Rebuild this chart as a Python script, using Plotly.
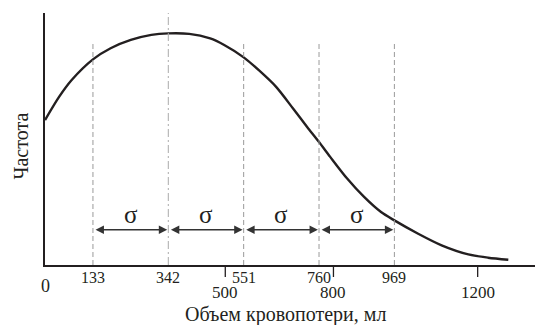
import plotly.graph_objects as go

# Curve (blood loss volume, ml -> relative frequency)
curve_x = [0, 39, 74, 133, 182, 238, 295, 342, 400, 458, 497, 551, 593, 641,
           688, 727, 760, 791, 838, 885, 932, 969, 1035, 1100, 1174, 1229, 1285]
curve_y = [0.575, 0.667, 0.734, 0.816, 0.860, 0.893, 0.913, 0.919, 0.917, 0.899,
           0.873, 0.824, 0.773, 0.707, 0.621, 0.548, 0.488, 0.429, 0.343, 0.270,
           0.210, 0.177, 0.124, 0.078, 0.042, 0.029, 0.021]

sigma_lines = [133, 342, 551, 760, 969]
sigma_label = "σ"
upper_ticks = ["133", "342", "551", "760", "969"]
lower_ticks = [500, 800, 1200]
zero_tick = 0

x_title = "Объем кровопотери, мл"
y_title = "Частота"

FONT = "Liberation Serif"
INK = "#231f20"
X_MAX = 1359

fig = go.Figure()
fig.add_trace(go.Scatter(x=curve_x, y=curve_y, mode="lines",
                         line=dict(color=INK, width=2.4, shape="spline", smoothing=0.8),
                         cliponaxis=False, hoverinfo="skip", showlegend=False))

shapes = []
annotations = []
for v in sigma_lines:
    if v == 342:
        shapes.append(dict(type="line", xref="x", yref="y", x0=v, x1=v, y0=0, y1=1.0,
                           line=dict(color="#aaaaaa", width=1, dash="8px,3px,2px,3px")))
    else:
        shapes.append(dict(type="line", xref="x", yref="y", x0=v, x1=v, y0=0, y1=0.881,
                           line=dict(color="#9a9a9a", width=1, dash="5px,3px")))

ARROW_Y = 0.14
for a, b in zip(sigma_lines[:-1], sigma_lines[1:]):
    annotations.append(dict(x=b - 3, y=ARROW_Y, ax=a + 3, ay=ARROW_Y, xref="x", yref="y",
                            axref="x", ayref="y", text="", showarrow=True,
                            arrowhead=2, startarrowhead=2, arrowside="end+start",
                            arrowsize=1.2, startarrowsize=1.2, arrowwidth=1.4, arrowcolor="#333333"))
    annotations.append(dict(x=(a + b) / 2, y=ARROW_Y, xref="x", yref="y", text=sigma_label,
                            showarrow=False, yanchor="bottom", yshift=0,
                            font=dict(family=FONT, size=25, color=INK)))

for v, t in zip(sigma_lines, upper_ticks):
    annotations.append(dict(x=v, y=0, xref="x", yref="paper", text=t, showarrow=False,
                            yanchor="middle", yshift=-12,
                            font=dict(family=FONT, size=16, color=INK)))

annotations.append(dict(x=zero_tick, y=0, xref="x", yref="paper", text=str(zero_tick),
                        showarrow=False, yanchor="middle", yshift=-21,
                        font=dict(family=FONT, size=18, color=INK)))

for v in lower_ticks:
    shapes.append(dict(type="line", xref="x", yref="paper", x0=v, x1=v, y0=-12, y1=0,
                       ysizemode="pixel", yanchor=0, line=dict(color=INK, width=1.3)))
    annotations.append(dict(x=v, y=0, xref="x", yref="paper", text=str(v), showarrow=False,
                            yanchor="middle", yshift=-27, borderpad=0,
                            font=dict(family=FONT, size=17, color=INK)))

# axis titles
annotations.append(dict(x=668, y=0, xref="x", yref="paper", text=x_title, showarrow=False,
                        yanchor="middle", yshift=-49, xanchor="center", borderpad=0,
                        font=dict(family=FONT, size=20, color=INK)))
annotations.append(dict(x=0, y=0.47, xref="paper", yref="paper", text=y_title, showarrow=False,
                        xanchor="center", xshift=-24, textangle=-90,
                        font=dict(family=FONT, size=20, color=INK)))

fig.update_layout(shapes=shapes, annotations=annotations)

fig.update_xaxes(range=[0, X_MAX], showline=True, linecolor=INK, linewidth=1.5,
                 showticklabels=False, ticks="", showgrid=False, zeroline=False, automargin=False)
fig.update_yaxes(range=[0, 1], showline=True, linecolor=INK, linewidth=1.5,
                 showticklabels=False, ticks="", showgrid=False, zeroline=False, automargin=False)

fig.update_layout(width=535, height=325, margin=dict(l=45, r=0, t=13, b=60, autoexpand=False),
                  paper_bgcolor="white", plot_bgcolor="white", showlegend=False)

fig.write_html("out.html", config={"displayModeBar": False},
               post_script="document.body.style.margin='0';")
